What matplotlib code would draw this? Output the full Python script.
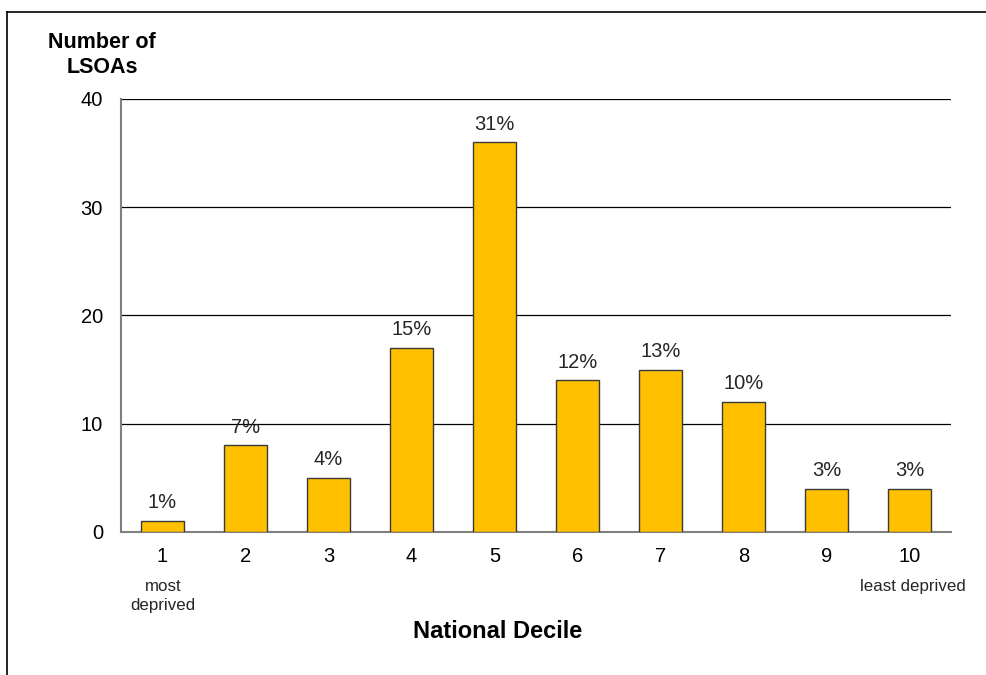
import numpy as np
import matplotlib
matplotlib.use('Agg')
import matplotlib.pyplot as plt
from matplotlib.lines import Line2D

plt.rcParams['font.family'] = ['Liberation Sans', 'DejaVu Sans']

deciles = ['1', '2', '3', '4', '5', '6', '7', '8', '9', '10']
lsoa_counts = [1, 8, 5, 17, 36, 14, 15, 12, 4, 4]

counts = np.array(lsoa_counts)
pct = np.round(counts / counts.sum() * 100).astype(int)

fig = plt.figure(figsize=(9.87, 6.75), dpi=100)
ax = fig.add_axes([0.1226, 0.2119, 0.8409, 0.6415])

x = np.arange(len(deciles))
ax.bar(x, counts, width=0.51, color='#FFC000', edgecolor='#3a3a3a', linewidth=1, zorder=3)
for xi, c, p in zip(x, counts, pct):
    ax.text(xi, c + 0.8, f'{p}%', ha='center', va='bottom', fontsize=14.5, color='#262626')

ax.set_xlim(-0.5, 9.5)
ax.set_ylim(0, 40)
ax.set_yticks([0, 10, 20, 30, 40])
ax.set_xticks(x)
ax.set_xticklabels(deciles)
ax.tick_params(axis='both', length=0, labelsize=14.5, colors='#000000')
ax.tick_params(axis='x', pad=11)
ax.tick_params(axis='y', pad=13)
ax.yaxis.grid(True, color='black', linewidth=0.9, zorder=0)
for s in ['top', 'right']:
    ax.spines[s].set_visible(False)
for s in ['left', 'bottom']:
    ax.spines[s].set_color('#808080')
    ax.spines[s].set_linewidth(1.5)

fig.text(102 / 987, 1 - 55 / 675, 'Number of\nLSOAs', ha='center', va='center',
         fontsize=15.5, fontweight='bold', linespacing=1.3)
fig.text(163 / 987, 1 - 596 / 675, 'most\ndeprived', ha='center', va='center',
         fontsize=12.2, color='#262626', linespacing=1.3)
fig.text(913 / 987, 1 - 587 / 675, 'least deprived', ha='center', va='center',
         fontsize=12.2, color='#262626')
fig.text(498 / 987, 1 - 632 / 675, 'National Decile', ha='center', va='center',
         fontsize=17, fontweight='bold')

# outer frame (top and left edges)
fig.add_artist(Line2D([7 / 987, 1], [1 - 12 / 675, 1 - 12 / 675], color='black', linewidth=1.2))
fig.add_artist(Line2D([7 / 987, 7 / 987], [0, 1 - 12 / 675], color='black', linewidth=1.2))

fig.savefig('out.png', dpi=100)
